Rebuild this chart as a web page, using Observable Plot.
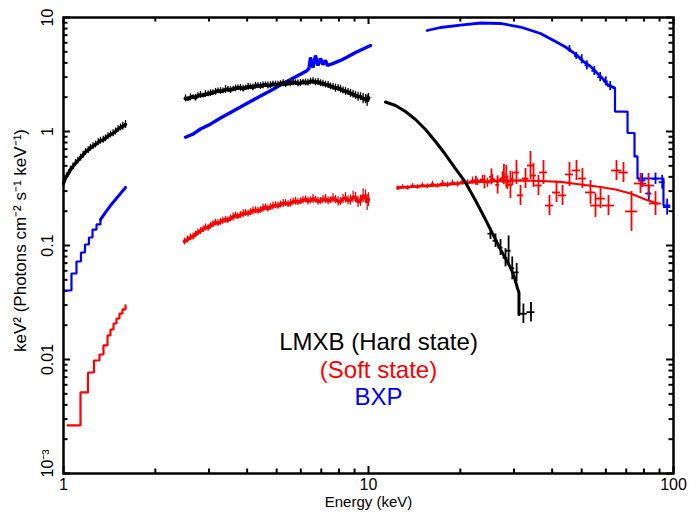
<!DOCTYPE html>
<html><head><meta charset="utf-8">
<script src="https://cdn.jsdelivr.net/npm/d3@7"></script>
<script src="https://cdn.jsdelivr.net/npm/@observablehq/plot@0.6"></script>
<style>
html,body{margin:0;padding:0;background:#fff;}
#chart{width:689px;height:516px;}
</style>
</head><body><div id="chart"></div>
<script>
// ---------- data: [Energy keV, keV^2 flux, (error in dex), (half bin in dex)] ----------
const hardSeg1 = [[1.000,0.350,0.03],[1.012,0.383,0.03],[1.023,0.405,0.03],[1.038,0.428,0.03],[1.054,0.462,0.03],[1.075,0.495,0.03],[1.095,0.530,0.03],[1.115,0.556,0.03],[1.137,0.591,0.03],[1.16,0.625,0.03],[1.181,0.662,0.03],[1.205,0.686,0.03],[1.226,0.720,0.03],[1.25,0.745,0.03],[1.273,0.769,0.03],[1.30,0.805,0.03],[1.322,0.830,0.03],[1.35,0.846,0.03],[1.373,0.872,0.03],[1.40,0.912,0.03],[1.426,0.941,0.03],[1.455,0.965,0.03],[1.481,1.0,0.03],[1.51,1.05,0.03],[1.538,1.084,0.03],[1.565,1.11,0.035],[1.597,1.152,0.035]];
const hardSeg2 = [[2.512,1.95,0.03],[2.56,1.93,0.02],[2.609,1.99,0.03],[2.66,2.01,0.02],[2.709,1.98,0.03],[2.76,2.06,0.025],[2.813,2.09,0.03],[2.87,2.07,0.02],[2.921,2.13,0.03],[2.98,2.14,0.025],[3.034,2.17,0.03],[3.09,2.19,0.025],[3.151,2.23,0.03],[3.21,2.27,0.025],[3.272,2.26,0.03],[3.33,2.27,0.025],[3.397,2.33,0.035],[3.46,2.34,0.025],[3.528,2.31,0.03],[3.60,2.36,0.025],[3.664,2.39,0.03],[3.73,2.42,0.025],[3.804,2.41,0.03],[3.88,2.38,0.03],[3.951,2.41,0.025],[4.03,2.47,0.03],[4.103,2.47,0.025],[4.18,2.44,0.03],[4.261,2.52,0.03],[4.34,2.53,0.025],[4.425,2.50,0.03],[4.51,2.54,0.03],[4.595,2.57,0.025],[4.68,2.53,0.03],[4.772,2.55,0.03],[4.86,2.60,0.025],[4.956,2.58,0.03],[5.05,2.57,0.03],[5.146,2.63,0.025],[5.25,2.65,0.03],[5.345,2.60,0.03],[5.45,2.65,0.025],[5.550,2.65,0.03],[5.66,2.70,0.03],[5.764,2.68,0.025],[5.87,2.64,0.03],[5.984,2.66,0.03],[6.10,2.71,0.025],[6.215,2.69,0.03],[6.33,2.68,0.03],[6.454,2.74,0.03],[6.58,2.76,0.03],[6.703,2.70,0.03],[6.83,2.72,0.03],[6.961,2.65,0.03],[7.09,2.63,0.03],[7.228,2.58,0.03],[7.37,2.56,0.03],[7.506,2.49,0.03],[7.65,2.46,0.03],[7.795,2.40,0.035],[7.95,2.40,0.03],[8.095,2.35,0.035],[8.25,2.29,0.03],[8.407,2.25,0.035],[8.57,2.22,0.03],[8.730,2.16,0.035],[8.90,2.12,0.035],[9.066,2.07,0.035],[9.24,2.02,0.04],[9.415,2.02,0.035],[9.60,1.94,0.045],[9.777,1.92,0.04],[9.90,1.87,0.05],[10.0,1.97,0.04]];
const hardSeg3 = [[11.37,1.815],[12.26,1.69],[13.22,1.497],[14.26,1.274],[15.38,1.041],[16.58,0.817],[17.88,0.628],[19.28,0.473],[20.80,0.357],[22.43,0.248],[24.19,0.169],[25.12,0.138],[26.09,0.113],[27.09,0.0922],[28.13,0.0769],[29.21,0.0641],[30.10,0.0524],[30.80,0.0420],[31.14,0.0387],[31.14,0.0248]];
const hardCross = [[25.12,0.127,0.05,0.008],[26.09,0.110,0.06,0.008],[27.09,0.096,0.07,0.008],[28.13,0.078,0.08,0.008],[28.8,0.090,0.13,0.008],[29.6,0.063,0.10,0.008],[30.6,0.058,0.08,0.008],[32.2,0.0252,0.085,0.013],[34.1,0.0260,0.085,0.013]];

const softSeg1 = [[1.031,0.00264],[1.137,0.00514],[1.203,0.00769],[1.259,0.0098],[1.312,0.01106],[1.352,0.01328],[1.394,0.01625],[1.426,0.01833],[1.459,0.0207],[1.492,0.0229],[1.526,0.0253],[1.561,0.0275],[1.597,0.0298]];
const softSeg2 = [[2.493,0.1084,0.03],[2.55,0.113,0.03],[2.609,0.118,0.03],[2.66,0.120,0.03],[2.709,0.125,0.03],[2.76,0.130,0.03],[2.813,0.134,0.03],[2.87,0.139,0.03],[2.921,0.144,0.03],[2.98,0.143,0.03],[3.034,0.149,0.03],[3.09,0.154,0.03],[3.151,0.159,0.03],[3.21,0.157,0.03],[3.272,0.161,0.03],[3.33,0.165,0.03],[3.397,0.168,0.03],[3.46,0.167,0.03],[3.528,0.173,0.03],[3.60,0.178,0.035],[3.664,0.183,0.03],[3.73,0.180,0.03],[3.804,0.185,0.03],[3.88,0.190,0.035],[3.951,0.193,0.03],[4.03,0.191,0.03],[4.103,0.196,0.03],[4.18,0.201,0.035],[4.261,0.204,0.03],[4.34,0.201,0.03],[4.425,0.205,0.03],[4.51,0.212,0.035],[4.595,0.216,0.03],[4.68,0.211,0.03],[4.772,0.217,0.03],[4.86,0.222,0.035],[4.956,0.226,0.03],[5.05,0.223,0.03],[5.146,0.229,0.03],[5.25,0.234,0.035],[5.345,0.236,0.03],[5.45,0.231,0.03],[5.550,0.235,0.035],[5.66,0.242,0.03],[5.764,0.245,0.035],[5.87,0.240,0.03],[5.984,0.244,0.03],[6.10,0.250,0.035],[6.215,0.254,0.03],[6.33,0.246,0.035],[6.454,0.249,0.03],[6.58,0.256,0.04],[6.703,0.252,0.03],[6.83,0.244,0.035],[6.961,0.246,0.03],[7.09,0.253,0.035],[7.228,0.256,0.04],[7.37,0.247,0.035],[7.506,0.250,0.03],[7.65,0.259,0.04],[7.795,0.253,0.035],[7.95,0.244,0.04],[8.095,0.243,0.035],[8.25,0.256,0.04],[8.407,0.262,0.045],[8.57,0.248,0.04],[8.730,0.250,0.045],[8.90,0.266,0.05],[9.066,0.264,0.045],[9.24,0.242,0.05],[9.415,0.247,0.05],[9.60,0.272,0.06],[9.777,0.268,0.06],[9.90,0.238,0.07],[10.0,0.253,0.06]];
const softData3 = [[12.45,0.318,0.02],[12.93,0.326,0.02],[13.43,0.320,0.02],[13.94,0.333,0.02],[14.48,0.326,0.02],[15.03,0.338,0.02],[15.61,0.331,0.02],[16.21,0.345,0.025],[16.84,0.334,0.02],[17.48,0.352,0.025],[18.16,0.340,0.025],[18.86,0.355,0.025],[19.58,0.345,0.025],[20.33,0.365,0.03],[21.11,0.352,0.03],[21.93,0.372,0.03],[22.77,0.360,0.03],[23.64,0.380,0.035],[24.55,0.355,0.04],[25.50,0.385,0.04],[26.48,0.360,0.05],[27.50,0.395,0.05],[28.55,0.355,0.06],[29.65,0.385,0.06]];
const softModel3 = [[12.45,0.323],[14.81,0.330],[17.22,0.336],[20.03,0.350],[23.29,0.361],[27.09,0.368],[31.51,0.372],[36.64,0.368],[42.61,0.361],[49.56,0.343],[57.64,0.326],[64.54,0.310],[72.3,0.286],[80.9,0.253],[88.6,0.2335]];
const softCross = [[22.5,0.37,0.04,0.006],[24.0,0.36,0.06,0.006],[25.3,0.40,0.07,0.006],[26.5,0.34,0.08,0.006],[27.8,0.42,0.09,0.006],[28.3,0.40,0.10,0.008],[29.2,0.34,0.12,0.008],[30.56,0.437,0.105,0.01],[31.51,0.275,0.088,0.01],[32.72,0.387,0.088,0.01],[33.97,0.503,0.123,0.01],[34.75,0.411,0.105,0.01],[36.09,0.336,0.088,0.012],[37.48,0.437,0.105,0.013],[39.21,0.224,0.088,0.013],[41.34,0.292,0.088,0.013],[43.26,0.275,0.088,0.013],[45.60,0.420,0.105,0.013],[48.08,0.455,0.088,0.013],[50.29,0.387,0.088,0.013],[53.45,0.292,0.105,0.016],[55.50,0.224,0.105,0.016],[57.64,0.258,0.088,0.016],[61.22,0.224,0.088,0.02],[65.03,0.455,0.088,0.016],[68.55,0.437,0.088,0.016],[72.84,0.199,0.175,0.02],[77.95,0.350,0.088,0.02],[82.8,0.336,0.105,0.02],[87.3,0.2335,0.105,0.02]];

const bxpSeg1Steps = [[1.004,0.0403],[1.062,0.0568],[1.103,0.0724],[1.141,0.0868],[1.176,0.102],[1.212,0.1175],[1.245,0.138],[1.283,0.153],[1.322,0.169]];
const bxpSeg1Smooth = [[1.322,0.169],[1.373,0.195],[1.426,0.224],[1.481,0.253],[1.538,0.286],[1.597,0.323]];
const bxpSeg2 = [[2.512,0.891],[2.65,0.945],[2.813,1.052],[3.03,1.16],[3.272,1.313],[3.53,1.47],[3.804,1.637],[4.10,1.83],[4.425,2.044],[4.77,2.28],[5.146,2.553],[5.55,2.86],[5.984,3.18],[6.262,3.40],[6.381,3.57],[6.454,4.46],[6.577,3.64],[6.703,4.64],[6.831,3.79],[6.961,4.37],[7.094,3.87],[7.228,4.20],[7.338,3.79],[7.70,3.98],[8.095,4.20],[8.55,4.52],[9.066,4.93],[9.60,5.30],[10.15,5.68]];
const bxpSeg3 = [[15.57,7.69],[17.22,8.17],[20.03,8.59],[23.29,8.95],[27.09,8.86],[31.51,8.25],[36.64,7.24],[41.03,6.16],[44.24,5.51],[47.72,4.78],[50.70,4.11],[53.45,3.72],[56.35,3.23],[58.96,2.86],[60.76,2.58],[63.57,2.43]];
const bxpSteps = [[63.57,2.43],[64.29,1.497],[70.68,0.970],[74.5,0.604],[76.2,0.387],[92.7,0.224],[97.0,0.224]];
const bxpCross = [[45.6,5.30,0.03,0.006],[48.0,4.60,0.03,0.006],[50.0,4.30,0.04,0.006],[52.0,3.80,0.04,0.006],[55.0,3.40,0.04,0.008],[57.5,3.00,0.04,0.008],[60.0,2.75,0.04,0.008],[62.0,2.50,0.04,0.008],[78.97,0.372,0.06,0.012],[83.0,0.286,0.07,0.01],[87.3,0.385,0.05,0.01],[91.8,0.359,0.06,0.01],[95.3,0.217,0.07,0.012]];

// axes
const xMajor = [1, 10, 100];
const xMinor = [2,3,4,5,6,7,8,9,20,30,40,50,60,70,80,90];
const xTickLabels = ["1", "10", "100"];
const yMajor = [0.001, 0.01, 0.1, 1, 10];
const yMinor = [0.002,0.003,0.004,0.005,0.006,0.007,0.008,0.009,0.02,0.03,0.04,0.05,0.06,0.07,0.08,0.09,0.2,0.3,0.4,0.5,0.6,0.7,0.8,0.9,2,3,4,5,6,7,8,9];
const yTickLabels = ["10⁻³", "0.01", "0.1", "1", "10"];
const xTitle = "Energy (keV)";
const yTitle = "keV² (Photons cm⁻² s⁻¹ keV⁻¹)";
const legendLabels = ["LMXB (Hard state)", "(Soft state)", "BXP"];
const legendColors = ["#000000", "#ff0000", "#0000ff"];

// ---------- build ----------
const W = 689, H = 516, ML = 63, MR = 16, MT = 17, MB = 43;
const FW = W - ML - MR, FH = H - MT - MB;
const pts = a => a.map(([E, F, d]) => ({E, F, lo: F / 10 ** (d || 0), hi: F * 10 ** (d || 0)}));
const crosses = a => a.map(([E, F, d, de]) => ({E, F, lo: F / 10 ** d, hi: F * 10 ** d, elo: E / 10 ** de, ehi: E * 10 ** de}));

const BLACK = legendColors[0], RED = legendColors[1], BLUE = legendColors[2];
const line = (a, color, sw, curve) => Plot.line(pts(a), {x: "E", y: "F", stroke: color, strokeWidth: sw, curve: curve || "linear", strokeLinejoin: "miter"});
const errs = (a, color, sw) => Plot.ruleX(pts(a), {x: "E", y1: "lo", y2: "hi", stroke: color, strokeWidth: sw});
const crossMarks = (a, color, sw) => [
  Plot.ruleX(crosses(a), {x: "E", y1: "lo", y2: "hi", stroke: color, strokeWidth: sw}),
  Plot.ruleY(crosses(a), {y: "F", x1: "elo", x2: "ehi", stroke: color, strokeWidth: sw})
];
const font = "Liberation Sans, Arial, Helvetica, sans-serif";
const MAJ = 7, MIN = 4.5;

const chart = Plot.plot({
  width: W, height: H,
  marginLeft: ML, marginRight: MR, marginTop: MT, marginBottom: MB,
  style: {fontFamily: font, background: "white", color: "black"},
  x: {type: "log", domain: [1, 100], axis: null},
  y: {type: "log", domain: [1e-3, 10], axis: null},
  marks: [
    // ticks (inward on all four sides)
    Plot.ruleX(xMajor, {x: d => d, insetTop: FH - MAJ, stroke: "black", strokeWidth: 2}),
    Plot.ruleX(xMajor, {x: d => d, insetBottom: FH - MAJ, stroke: "black", strokeWidth: 2}),
    Plot.ruleX(xMinor, {x: d => d, insetTop: FH - MIN, stroke: "black", strokeWidth: 2}),
    Plot.ruleX(xMinor, {x: d => d, insetBottom: FH - MIN, stroke: "black", strokeWidth: 2}),
    Plot.ruleY(yMajor, {y: d => d, insetRight: FW - MAJ, stroke: "black", strokeWidth: 2}),
    Plot.ruleY(yMajor, {y: d => d, insetLeft: FW - MAJ, stroke: "black", strokeWidth: 2}),
    Plot.ruleY(yMinor, {y: d => d, insetRight: FW - MIN, stroke: "black", strokeWidth: 2}),
    Plot.ruleY(yMinor, {y: d => d, insetLeft: FW - MIN, stroke: "black", strokeWidth: 2}),

    // BXP (blue)
    line(bxpSeg1Steps, BLUE, 2.2, "step-after"),
    line(bxpSeg1Smooth, BLUE, 3),
    line(bxpSeg2, BLUE, 3.4),
    line(bxpSeg3, BLUE, 2.8),
    line(bxpSteps, BLUE, 2.2, "step-after"),
    ...crossMarks(bxpCross, BLUE, 1.8),

    // Soft state (red)
    line(softSeg1, RED, 2.2, "step-after"),
    line(softSeg2, RED, 3.6),
    errs(softSeg2, RED, 1.3),
    line(softModel3, RED, 2.2),
    line(softData3, RED, 2.4),
    errs(softData3, RED, 1.4),
    ...crossMarks(softCross, RED, 1.8),

    // Hard state (black)
    line(hardSeg1, BLACK, 3.4),
    errs(hardSeg1, BLACK, 1.3),
    line(hardSeg2, BLACK, 3.8),
    errs(hardSeg2, BLACK, 1.3),
    line(hardSeg3, BLACK, 3),
    ...crossMarks(hardCross, BLACK, 1.8),

    Plot.frame({stroke: "black", strokeWidth: 2.5}),

    // tick labels
    Plot.text(xMajor, {x: d => d, text: (d, i) => xTickLabels[i], frameAnchor: "bottom", lineAnchor: "middle", dy: 11, fontSize: 16, fill: "black"}),
    Plot.text(yMajor.slice(1), {y: d => d, text: (d, i) => yTickLabels[i + 1], frameAnchor: "left", textAnchor: "middle", lineAnchor: "middle", dx: -16, rotate: -90, fontSize: 16, fill: "black"}),
    Plot.text(yMajor.slice(0, 1), {y: d => d, text: (d, i) => yTickLabels[i], frameAnchor: "left", textAnchor: "start", lineAnchor: "middle", dx: -16, dy: 4, rotate: -90, fontSize: 16, fill: "black"}),
    // axis titles
    Plot.text([xTitle], {text: d => d, frameAnchor: "bottom", lineAnchor: "middle", dy: 29, fontSize: 15, fill: "black"}),
    Plot.text([yTitle], {text: d => d, frameAnchor: "left", textAnchor: "middle", lineAnchor: "middle", dx: -43, dy: -5, rotate: -90, fontSize: 17, fill: "black"}),
    // legend
    ...legendLabels.map((t, i) => Plot.text([t], {text: d => d, frameAnchor: "middle", dx: 10, dy: 97 + 27.5 * i, fontSize: 24, fill: legendColors[i]}))
  ]
});
document.getElementById("chart").appendChild(chart);
</script>
</body></html>
